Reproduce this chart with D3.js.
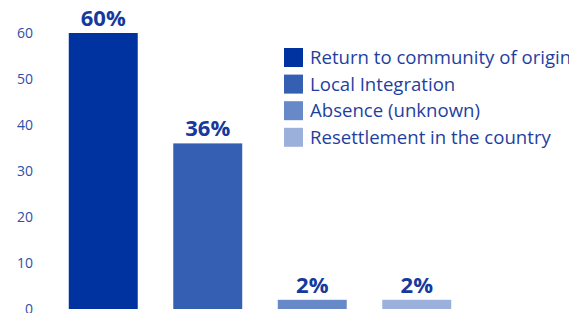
<!DOCTYPE html>
<html>
<head>
<meta charset="utf-8">
<script src="https://cdn.jsdelivr.net/npm/d3@7"></script>
<style>
  body { margin: 0; background: #fff; }
  svg { display: block; font-family: "Open Sans", "Noto Sans", sans-serif; }
</style>
</head>
<body>
<svg id="chart" width="569" height="313"></svg>
<script>
// data
var categories = ["Return to community of origin", "Local Integration", "Absence (unknown)", "Resettlement in the country"];
var values = [60, 36, 2, 2];
var colors = ["#00339f", "#345fb3", "#6889c8", "#9bb0da"];
var yTicks = [0, 10, 20, 30, 40, 50, 60];

var svg = d3.select("#chart");

var x = d3.scaleBand()
    .domain(categories)
    .range([51, 469])
    .paddingInner(0.34)
    .paddingOuter(0.17);

var y = d3.scaleLinear()
    .domain([0, 60])
    .range([309, 33]);

// y axis: labels only, no line
var yAxis = svg.append("g")
    .attr("transform", "translate(33,0)")
    .call(d3.axisLeft(y).tickValues(yTicks).tickSize(0).tickPadding(0));
yAxis.select(".domain").remove();
yAxis.selectAll("text")
    .attr("fill", "#2d4fa8")
    .attr("dy", "0.3em")
    .style("font-size", "14px")
    .style("font-family", "'Open Sans', sans-serif");

// bars
svg.selectAll(".bar")
    .data(values)
    .enter().append("rect")
    .attr("class", "bar")
    .attr("x", function (d, i) { return x(categories[i]); })
    .attr("y", function (d) { return y(d); })
    .attr("width", x.bandwidth())
    .attr("height", function (d) { return y(0) - y(d); })
    .attr("fill", function (d, i) { return colors[i]; });

// value labels
svg.selectAll(".val")
    .data(values)
    .enter().append("text")
    .attr("class", "val")
    .attr("x", function (d, i) { return x(categories[i]) + x.bandwidth() / 2; })
    .attr("y", function (d) { return y(d) - 7; })
    .attr("text-anchor", "middle")
    .attr("fill", "#15399c")
    .style("font-size", "22px")
    .style("font-weight", "bold")
    .text(function (d) { return d + "%"; });

// legend
var legend = svg.append("g").attr("transform", "translate(284,48)");
var item = legend.selectAll(".item")
    .data(categories)
    .enter().append("g")
    .attr("class", "item")
    .attr("transform", function (d, i) { return "translate(0," + (i * 26.6) + ")"; });
item.append("rect")
    .attr("width", 19)
    .attr("height", 19)
    .attr("fill", function (d, i) { return colors[i]; });
item.append("text")
    .attr("x", 26)
    .attr("y", 16)
    .attr("fill", "#1f3f9f")
    .style("font-size", "18.6px")
    .text(function (d) { return d; });
</script>
</body>
</html>
